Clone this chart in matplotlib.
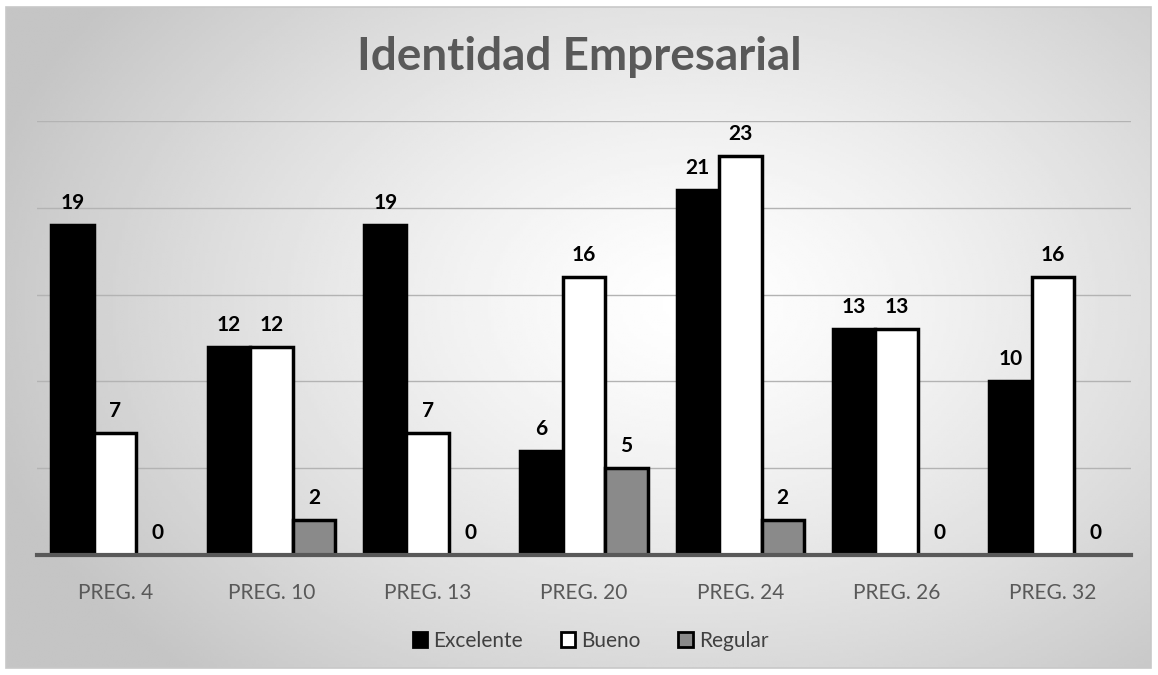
import numpy as np
import matplotlib.pyplot as plt
from matplotlib.patches import Patch, Rectangle

# Datos
preguntas = ['PREG. 4', 'PREG. 10', 'PREG. 13', 'PREG. 20', 'PREG. 24', 'PREG. 26', 'PREG. 32']
excelente = [19, 12, 19, 6, 21, 13, 10]
bueno = [7, 12, 7, 16, 23, 13, 16]
regular = [0, 2, 0, 5, 2, 0, 0]

FUENTE = 'Lato'

W, H = 1158, 675
fig = plt.figure(figsize=(W / 100, H / 100), dpi=100)
fig.patch.set_facecolor('white')

# Fondo con degradado radial
bx0, by0, bx1, by1 = 6, 7, 1151, 668
bg = fig.add_axes([bx0 / W, 1 - by1 / H, (bx1 - bx0) / W, (by1 - by0) / H], zorder=0)
xx, yy = np.meshgrid(np.linspace(0, 1, 400), np.linspace(0, 1, 240))
d = np.sqrt(((xx - 0.6) / 0.75) ** 2 + ((yy - 0.45) / 0.9) ** 2)
shade = np.clip(1.0 - 0.28 * d ** 1.3, 0.77, 1.0)
bg.imshow(shade, cmap='gray', vmin=0, vmax=1, aspect='auto', extent=[0, 1, 1, 0])
bg.set_xlim(0, 1)
bg.set_ylim(1, 0)
bg.axis('off')
fig.patches.append(Rectangle((bx0 / W, 1 - by1 / H), (bx1 - bx0) / W, (by1 - by0) / H,
                             transform=fig.transFigure, fill=False, edgecolor='#c8c8c8',
                             linewidth=1.2, zorder=1))

ax = fig.add_axes([37 / W, 1 - 555 / H, (1131 - 37) / W, (555 - 121) / H], zorder=2)
ax.set_facecolor('none')

x = np.arange(len(preguntas))
bw = 0.272
series = [
    (excelente, 'Excelente', 'black', 'black'),
    (bueno, 'Bueno', 'white', 'black'),
    (regular, 'Regular', '#8a8a8a', 'black'),
]
for k, (vals, name, fc, ec) in enumerate(series):
    pos = x + (k - 1) * bw
    ax.bar(pos, vals, width=bw, color=fc, edgecolor=ec, linewidth=2.5, zorder=3)
    for p, v in zip(pos, vals):
        ax.text(p, v + 0.7, str(v), ha='center', va='bottom', fontsize=15,
                fontweight='bold', color='black', family=FUENTE, zorder=4)

ax.set_xlim(-0.5, len(preguntas) - 0.5)
ax.set_ylim(0, 25)
ax.set_yticks([5, 10, 15, 20, 25])
ax.yaxis.grid(True, color='#b3b3b3', linewidth=1, zorder=1)
ax.set_axisbelow(True)
ax.tick_params(axis='y', left=False, labelleft=False)
ax.tick_params(axis='x', length=0, pad=20, labelsize=15, labelcolor='#595959')
ax.set_xticks(x)
ax.set_xticklabels(preguntas, family=FUENTE)
for s in ['left', 'right', 'top']:
    ax.spines[s].set_visible(False)
ax.spines['bottom'].set_color('#595959')
ax.spines['bottom'].set_linewidth(3)
ax.spines['bottom'].set_zorder(5)

fig.text(0.5, 1 - 57 / H, 'Identidad Empresarial', ha='center', va='center',
         fontsize=33, fontweight='bold', color='#595959', family=FUENTE)

handles = [Patch(facecolor=fc, edgecolor=ec, linewidth=2, label=name)
           for _, name, fc, ec in series]
fig.legend(handles=handles, loc='center', bbox_to_anchor=(0.51, 1 - 641 / H), ncol=3,
           frameon=False, handlelength=0.7, handleheight=0.7, handletextpad=0.3,
           columnspacing=1.8, prop={'family': FUENTE, 'size': 15},
           labelcolor='#404040')

fig.savefig('out.png', dpi=100)
